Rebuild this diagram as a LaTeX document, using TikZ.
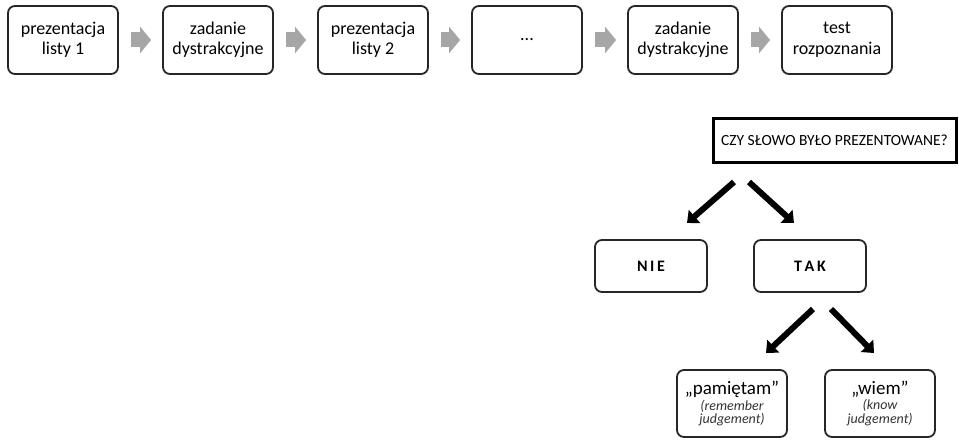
\documentclass[tikz,border=0pt]{standalone}
\usepackage{fontspec}
\setmainfont{Carlito}
\usetikzlibrary{arrows.meta}
\newcommand{\bigq}{\fontsize{19}{21}\selectfont}
\newcommand{\smallit}{\color{black!80}\itshape\fontsize{14}{15.5}\selectfont}
\begin{document}
\begin{tikzpicture}[x=1pt,y=-1pt,
  stepbox/.style={draw=black!85, line width=1.8pt, rounded corners=7pt, minimum width=110pt, minimum height=68pt, align=center, font=\fontsize{18}{20.5}\selectfont, inner sep=0pt},
  ansbox/.style={draw=black!85, line width=1.8pt, rounded corners=7pt, minimum width=112pt, minimum height=52pt, align=center, inner sep=0pt},
  judgebox/.style={draw=black!85, line width=1.8pt, rounded corners=7pt, minimum width=110pt, minimum height=67pt, align=center, inner sep=0pt},
  grayarrow/.style={line width=15pt, draw=black!35, -{Triangle[length=11pt, width=26pt]}, shorten <=12pt, shorten >=11pt},
  blackarrow/.style={line width=6pt, draw=black, -{Triangle[length=10pt, width=17pt]}}
]
\useasboundingbox (0,0) rectangle (959,441);
\node[stepbox] (b1) at (63,40) {prezentacja\\listy 1};
\node[stepbox] (b2) at (218,40) {zadanie\\dystrakcyjne};
\node[stepbox] (b3) at (373,40) {prezentacja\\listy 2};
\node[stepbox] (b4) at (527,40) {...};
\node[stepbox] (b5) at (683,40) {zadanie\\dystrakcyjne};
\node[stepbox] (b6) at (837,40) {test\\rozpoznania};
\draw[grayarrow] (b1) -- (b2);
\draw[grayarrow] (b2) -- (b3);
\draw[grayarrow] (b3) -- (b4);
\draw[grayarrow] (b4) -- (b5);
\draw[grayarrow] (b5) -- (b6);

\node[draw=black, line width=3pt, minimum width=243pt, minimum height=44pt, inner sep=0pt, font=\fontsize{15.5}{17}\selectfont] (q) at (834.5,140.5) {CZY SŁOWO BYŁO PREZENTOWANE?};

\node[ansbox, font=\bfseries\fontsize{16}{18}\selectfont] (nie) at (651,266) {N\,I\,E};
\node[ansbox, font=\bfseries\fontsize{16}{18}\selectfont] (tak) at (810,266) {T\,A\,K};

\coordinate (a1s) at (734,182);
\coordinate (a1e) at (687,223);
\coordinate (a2s) at (749,182);
\coordinate (a2e) at (794,223);
\draw[blackarrow] (a1s) -- (a1e);
\draw[blackarrow] (a2s) -- (a2e);

\coordinate (a3s) at (813,309);
\coordinate (a3e) at (766,353);
\coordinate (a4s) at (831,309);
\coordinate (a4e) at (874,353);
\draw[blackarrow] (a3s) -- (a3e);
\draw[blackarrow] (a4s) -- (a4e);

\node[judgebox] (pam) at (732,403.5) {\bigq „pamiętam”\\[1pt]\smallit (remember\\\smallit judgement)};
\node[judgebox] (wiem) at (880,403.5) {\bigq „wiem”\\[1pt]\smallit (know\\\smallit judgement)};
\end{tikzpicture}
\end{document}
